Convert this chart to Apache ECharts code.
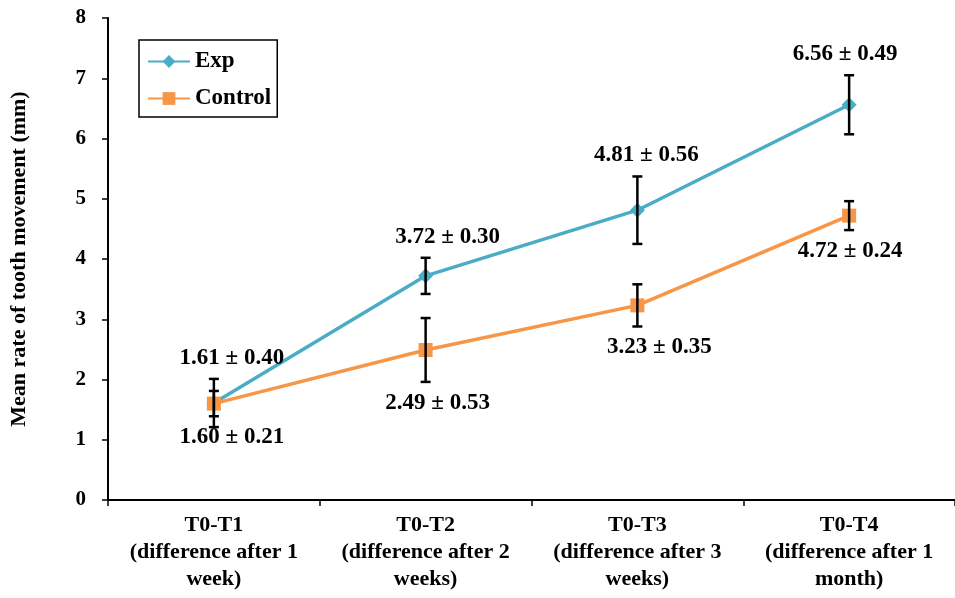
<!DOCTYPE html>
<html lang="en">
<head>
    <meta charset="UTF-8">
    <title>Mean rate of tooth movement</title>
    <script src="https://cdn.jsdelivr.net/npm/echarts@6/dist/echarts.min.js"></script>
    <style>
        html, body { margin: 0; padding: 0; background: #fff; }
        #container { width: 955px; height: 598px; }
    </style>
</head>
<body>
<div id="container"></div>
<script type="text/javascript">
    var categories = [
        'T0-T1\n(difference after 1\nweek)',
        'T0-T2\n(difference after 2\nweeks)',
        'T0-T3\n(difference after 3\nweeks)',
        'T0-T4\n(difference after 1\nmonth)'
    ];
    var expMean = [1.61, 3.72, 4.81, 6.56];
    var expSd = [0.40, 0.30, 0.56, 0.49];
    var ctrlMean = [1.60, 2.49, 3.23, 4.72];
    var ctrlSd = [0.21, 0.53, 0.35, 0.24];
    var yTicks = [0, 1, 2, 3, 4, 5, 6, 7, 8];

    // little sideways nudges for the value labels, in pixels
    var expLabelDx = [18, 22, 9, -4];
    var ctrlLabelDx = [18, 12, 22, 1];

    var FONT = '"Liberation Serif", "Times New Roman", serif';
    var EXP_COLOR = '#4BACC6';
    var CTRL_COLOR = '#F79646';

    function errorSeries(name, means, sds, above, dx) {
        var data = means.map(function (m, i) { return [i, m, sds[i]]; });
        return {
            name: name + ' err',
            type: 'custom',
            z: 5,
            silent: true,
            data: data,
            renderItem: function (params, api) {
                var i = api.value(0), m = api.value(1), s = api.value(2);
                var top = api.coord([i, m + s]);
                var bot = api.coord([i, m - s]);
                var half = 5;
                var lineStyle = { stroke: '#000', lineWidth: 2.5 };
                var lab = m.toFixed(2) + ' \u00b1 ' + s.toFixed(2);
                var ty = above ? top[1] - 21 : bot[1] + 21;
                return {
                    type: 'group',
                    children: [
                        { type: 'line', shape: { x1: top[0], y1: top[1], x2: bot[0], y2: bot[1] }, style: lineStyle },
                        { type: 'line', shape: { x1: top[0] - half, y1: top[1], x2: top[0] + half, y2: top[1] }, style: lineStyle },
                        { type: 'line', shape: { x1: bot[0] - half, y1: bot[1], x2: bot[0] + half, y2: bot[1] }, style: lineStyle },
                        { type: 'text', z2: 10, style: {
                            text: lab, x: top[0] + dx[i], y: ty,
                            align: 'center', verticalAlign: 'middle',
                            font: 'bold 23px ' + FONT, fill: '#000'
                        } }
                    ]
                };
            }
        };
    }

    var dom = document.getElementById('container');
    var myChart = echarts.init(dom);
    var option = {
        animation: false,
        backgroundColor: '#fff',
        grid: { left: 104, right: -4, top: 18, bottom: 98 },
        legend: {
            left: 139,
            top: 40,
            orient: 'vertical',
            data: ['Exp', 'Control'],
            itemWidth: 42,
            itemHeight: 16,
            itemGap: 14,
            padding: [10, 6, 7, 8],
            borderColor: '#000',
            borderWidth: 1.5,
            textStyle: { fontFamily: FONT, fontWeight: 'bold', fontSize: 23, color: '#000' }
        },
        xAxis: {
            type: 'category',
            data: categories,
            boundaryGap: true,
            axisLine: { lineStyle: { color: '#000', width: 2 } },
            axisTick: { show: true, length: 6, lineStyle: { color: '#000', width: 1.5 } },
            axisLabel: {
                interval: 0,
                margin: 12,
                fontFamily: FONT, fontWeight: 'bold', fontSize: 22, color: '#000',
                lineHeight: 27
            }
        },
        yAxis: {
            type: 'value',
            min: yTicks[0],
            max: yTicks[yTicks.length - 1],
            interval: 1,
            name: 'Mean rate of tooth movement (mm)',
            nameLocation: 'middle',
            nameGap: 78,
            nameTextStyle: { fontFamily: FONT, fontWeight: 'bold', fontSize: 22, color: '#000' },
            splitLine: { show: false },
            axisLine: { show: true, lineStyle: { color: '#000', width: 2 } },
            axisTick: { show: true, length: 6, lineStyle: { color: '#000', width: 1.5 } },
            axisLabel: {
                margin: 22,
                fontFamily: FONT, fontWeight: 'bold', fontSize: 21, color: '#000'
            }
        },
        series: [
            {
                name: 'Exp',
                type: 'line',
                data: expMean,
                symbol: 'diamond',
                symbolSize: 15,
                z: 3,
                itemStyle: { color: EXP_COLOR },
                lineStyle: { color: EXP_COLOR, width: 3.5 }
            },
            {
                name: 'Control',
                type: 'line',
                data: ctrlMean,
                symbol: 'rect',
                symbolSize: 14,
                z: 4,
                itemStyle: { color: CTRL_COLOR },
                lineStyle: { color: CTRL_COLOR, width: 3.5 }
            },
            errorSeries('Exp', expMean, expSd, true, expLabelDx),
            errorSeries('Control', ctrlMean, ctrlSd, false, ctrlLabelDx)
        ]
    };
    myChart.setOption(option, true);
</script>
</body>
</html>
